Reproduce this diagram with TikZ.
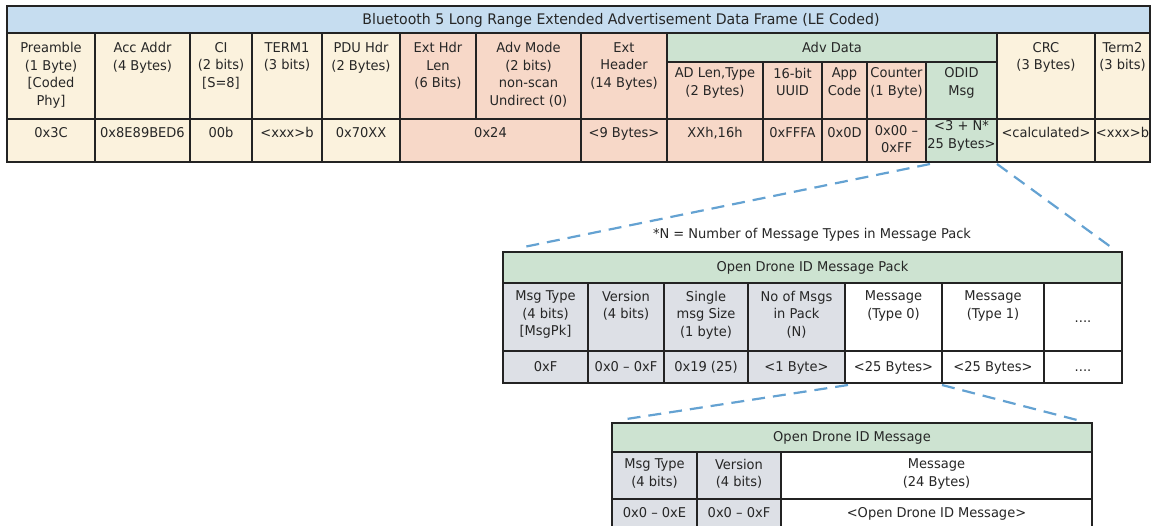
\documentclass[tikz,border=0pt]{standalone}
\usepackage{fontspec}
\setmainfont{DejaVu Sans}[FakeStretch=0.965]
\definecolor{tblue}{RGB}{198,221,240}
\definecolor{cream}{RGB}{251,242,221}
\definecolor{salmon}{RGB}{247,216,200}
\definecolor{mint}{RGB}{205,227,209}
\definecolor{lgray}{RGB}{221,224,230}
\definecolor{dashblue}{RGB}{100,162,210}
\definecolor{edge}{RGB}{35,35,35}
\tikzset{
 cellbox/.style={draw=edge, line width=1.1pt, inner sep=0pt, outer sep=0pt, anchor=north west},
 txt/.style={inner sep=0pt, outer sep=0pt, anchor=north, yshift=12.25pt, align=center,
   font=\fontsize{13.5}{17.5}\selectfont, execute at begin node=\strut, text=black!85},
 bigtxt/.style={txt, font=\fontsize{14.6}{17.5}\selectfont},
 dashline/.style={draw=dashblue, line width=2.2pt, dash pattern=on 13pt off 8pt},
}
\newcommand\cellat[6]{\node[cellbox, fill=#6, minimum width={#4-#2}, minimum height={#5-#3}] (#1) at (#2,#3) {};}
\newcommand\tx[4]{\node[txt] (#1) at (#2,#3) {#4};}
\begin{document}
\begin{tikzpicture}[x=1pt,y=-1pt]
\useasboundingbox (0,0) rectangle (1158,526);
% ---------- top frame ----------
\cellat{title}{7}{6}{1150}{33}{tblue}
\node[bigtxt] (titlet) at (621,24.5) {Bluetooth 5 Long Range Extended Advertisement Data Frame (LE Coded)};
% headers
\cellat{preH}{7}{33}{95}{119}{cream}
\cellat{accH}{95}{33}{190}{119}{cream}
\cellat{ciH}{190}{33}{252}{119}{cream}
\cellat{t1H}{252}{33}{322}{119}{cream}
\cellat{pduH}{322}{33}{400}{119}{cream}
\cellat{ehlH}{400}{33}{476}{119}{salmon}
\cellat{advmH}{476}{33}{581}{119}{salmon}
\cellat{ehH}{581}{33}{667}{119}{salmon}
\cellat{advdH}{667}{33}{997}{62}{mint}
\cellat{adlH}{667}{62}{763}{119}{salmon}
\cellat{uuidH}{763}{62}{822}{119}{salmon}
\cellat{appH}{822}{62}{867}{119}{salmon}
\cellat{cntH}{867}{62}{926}{119}{salmon}
\cellat{odidH}{926}{62}{997}{119}{mint}
\cellat{crcH}{997}{33}{1095}{119}{cream}
\cellat{t2H}{1095}{33}{1150}{119}{cream}
% values
\cellat{preV}{7}{119}{95}{162}{cream}
\cellat{accV}{95}{119}{190}{162}{cream}
\cellat{ciV}{190}{119}{252}{162}{cream}
\cellat{t1V}{252}{119}{322}{162}{cream}
\cellat{pduV}{322}{119}{400}{162}{cream}
\cellat{ehlV}{400}{119}{581}{162}{salmon}
\cellat{ehV}{581}{119}{667}{162}{salmon}
\cellat{adlV}{667}{119}{763}{162}{salmon}
\cellat{uuidV}{763}{119}{822}{162}{salmon}
\cellat{appV}{822}{119}{867}{162}{salmon}
\cellat{cntV}{867}{119}{926}{162}{salmon}
\cellat{odidV}{926}{119}{997}{162}{mint}
\cellat{crcV}{997}{119}{1095}{162}{cream}
\cellat{t2V}{1095}{119}{1150}{162}{cream}
% header texts
\tx{preHt}{51}{54.5}{Preamble\\(1 Byte)\\{[Coded}\\Phy]}
\tx{accHt}{142.5}{54.5}{Acc Addr\\(4 Bytes)}
\tx{ciHt}{221}{54.5}{CI\\(2 bits)\\{[S=8]}}
\tx{t1Ht}{287}{54.5}{TERM1\\(3 bits)}
\tx{pduHt}{361}{54.5}{PDU Hdr\\(2 Bytes)}
\tx{ehlHt}{438}{54.5}{Ext Hdr\\Len\\(6 Bits)}
\tx{advmHt}{528.5}{54.5}{Adv Mode\\(2 bits)\\non-scan\\Undirect (0)}
\tx{ehHt}{624}{54.5}{Ext\\Header\\(14 Bytes)}
\tx{advdHt}{832}{53}{Adv Data}
\tx{adlHt}{715}{80}{AD Len,Type\\(2 Bytes)}
\tx{uuidHt}{792.5}{80}{16-bit\\UUID}
\tx{appHt}{844.5}{80}{App\\Code}
\tx{cntHt}{896.5}{80}{Counter\\(1 Byte)}
\tx{odidHt}{961.5}{80}{ODID\\Msg}
\tx{crcHt}{1046}{54.5}{CRC\\(3 Bytes)}
\tx{t2Ht}{1122.5}{54.5}{Term2\\(3 bits)}
% value texts
\tx{preVt}{51}{137.5}{0x3C}
\tx{accVt}{142.5}{137.5}{0x8E89BED6}
\tx{ciVt}{221}{137.5}{00b}
\tx{t1Vt}{287}{137.5}{<xxx>b}
\tx{pduVt}{361}{137.5}{0x70XX}
\tx{ehlVt}{490.5}{137.5}{0x24}
\tx{ehVt}{624}{137.5}{<9 Bytes>}
\tx{adlVt}{715}{137.5}{XXh,16h}
\tx{uuidVt}{792.5}{137.5}{0xFFFA}
\tx{appVt}{844.5}{137.5}{0x0D}
\tx{cntVt}{896.5}{137.5}{0x00 –\\0xFF}
\tx{odidVt}{961.5}{133}{<3 + N*\\25 Bytes>}
\tx{crcVt}{1046}{137.5}{<calculated>}
\tx{t2Vt}{1122.5}{137.5}{<xxx>b}
% ---------- message pack ----------
\tx{note}{812}{239}{*N = Number of Message Types in Message Pack}
\cellat{pack}{503}{252}{1122}{283}{mint}
\tx{packt}{812.5}{272}{Open Drone ID Message Pack}
\cellat{pmtH}{503}{283}{588}{351}{lgray}
\cellat{pverH}{588}{283}{664}{351}{lgray}
\cellat{psizeH}{664}{283}{748}{351}{lgray}
\cellat{pnoH}{748}{283}{845}{351}{lgray}
\cellat{pm0H}{845}{283}{942}{351}{white}
\cellat{pm1H}{942}{283}{1044}{351}{white}
\cellat{pdotH}{1044}{283}{1122}{351}{white}
\cellat{pmtV}{503}{351}{588}{383}{lgray}
\cellat{pverV}{588}{351}{664}{383}{lgray}
\cellat{psizeV}{664}{351}{748}{383}{lgray}
\cellat{pnoV}{748}{351}{845}{383}{lgray}
\cellat{pm0V}{845}{351}{942}{383}{white}
\cellat{pm1V}{942}{351}{1044}{383}{white}
\cellat{pdotV}{1044}{351}{1122}{383}{white}
\tx{pmtHt}{545.5}{303}{Msg Type\\(4 bits)\\{[MsgPk]}}
\tx{pverHt}{626}{303}{Version\\(4 bits)}
\tx{psizeHt}{706}{303}{Single\\msg Size\\(1 byte)}
\tx{pnoHt}{796.5}{303}{No of Msgs\\in Pack\\(N)}
\tx{pm0Ht}{893.5}{303}{Message\\(Type 0)}
\tx{pm1Ht}{993}{303}{Message\\(Type 1)}
\tx{pdotHt}{1083}{322}{....}
\tx{pmtVt}{545.5}{371}{0xF}
\tx{pverVt}{626}{371}{0x0 – 0xF}
\tx{psizeVt}{706}{371}{0x19 (25)}
\tx{pnoVt}{796.5}{371}{<1 Byte>}
\tx{pm0Vt}{893.5}{371}{<25 Bytes>}
\tx{pm1Vt}{993}{371}{<25 Bytes>}
\tx{pdotVt}{1083}{371}{....}
% ---------- single message ----------
\cellat{msg}{612}{423}{1092}{452}{mint}
\tx{msgt}{852}{441}{Open Drone ID Message}
\cellat{mmtH}{612}{452}{697}{499}{lgray}
\cellat{mverH}{697}{452}{781}{499}{lgray}
\cellat{mmsgH}{781}{452}{1092}{499}{white}
\cellat{mmtV}{612}{499}{697}{528}{lgray}
\cellat{mverV}{697}{499}{781}{528}{lgray}
\cellat{mmsgV}{781}{499}{1092}{528}{white}
\tx{mmtHt}{654.5}{471}{Msg Type\\(4 bits)}
\tx{mverHt}{739}{471}{Version\\(4 bits)}
\tx{mmsgHt}{936.5}{471}{Message\\(24 Bytes)}
\tx{mmtVt}{654.5}{517.5}{0x0 – 0xE}
\tx{mverVt}{739}{517.5}{0x0 – 0xF}
\tx{mmsgVt}{936.5}{517.5}{<Open Drone ID Message>}
% ---------- connectors ----------
\draw[dashline] ([xshift=4pt,yshift=-2pt]odidV.south west) -- ([xshift=16pt,yshift=4pt]pack.north west);
\draw[dashline] ([yshift=-2pt]odidV.south east) -- ([xshift=-7pt,yshift=2pt]pack.north east);
\draw[dashline] ([xshift=3pt,yshift=-2pt]pm0V.south west) -- ([xshift=8pt,yshift=3pt]msg.north west);
\draw[dashline] ([yshift=-2pt]pm0V.south east) -- ([xshift=-15pt,yshift=3pt]msg.north east);
\end{tikzpicture}
\end{document}
